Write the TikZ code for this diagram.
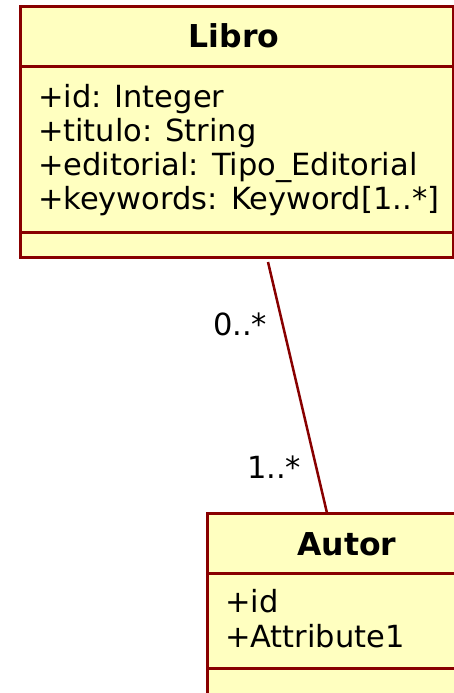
\documentclass[tikz,border=0pt]{standalone}
\usepackage{fontspec}
\setmainfont{DejaVu Sans}
\definecolor{umlborder}{HTML}{880000}
\definecolor{umlfill}{HTML}{FFFFC0}
\tikzset{
  classbox/.style={draw=umlborder, fill=umlfill, line width=3pt, rectangle, inner sep=0pt, outer sep=0pt},
  sepline/.style={draw=umlborder, line width=3pt},
  assoc/.style={draw=umlborder, line width=2.5pt},
  txt/.style={inner sep=0pt, outer sep=0pt, anchor=base west, font=\fontsize{30.5}{36}\selectfont},
  titletxt/.style={inner sep=0pt, outer sep=0pt, anchor=base, font=\fontsize{31.5}{36}\selectfont\bfseries},
}
\begin{document}
\begin{tikzpicture}[x=1pt,y=-1pt]
\useasboundingbox (0,0) rectangle (454,693);
% Libro class
\node[classbox, minimum width=433pt, minimum height=250pt, anchor=north west] (libro) at (20,7) {};
\draw[sepline] (20,67) -- (453,67);
\draw[sepline] (20,232) -- (453,232);
\node[titletxt] (libroname) at (234,48) {Libro};
\node[txt] (la1) at (38,107) {+id: Integer};
\node[txt] (la2) at (38,141) {+titulo: String};
\node[txt] (la3) at (38,175) {+editorial: Tipo\_Editorial};
\node[txt] (la4) at (38,209) {+keywords: Keyword[1..*]};
% Autor class
\node[classbox, minimum width=280pt, minimum height=190pt, anchor=north west] (autor) at (207,513) {};
\draw[sepline] (207,573) -- (487,573);
\draw[sepline] (207,668) -- (487,668);
\node[titletxt] (autorname) at (347,555) {Autor};
\node[txt] (aa1) at (225,612) {+id};
\node[txt] (aa2) at (225,647) {+Attribute1};
% association
\coordinate (c1) at (268,262);
\coordinate (c2) at (327,513);
\draw[assoc] (c1) -- (c2);
\node[txt] (m1) at (213,335) {0..*};
\node[txt] (m2) at (247,478) {1..*};
\end{tikzpicture}
\end{document}
